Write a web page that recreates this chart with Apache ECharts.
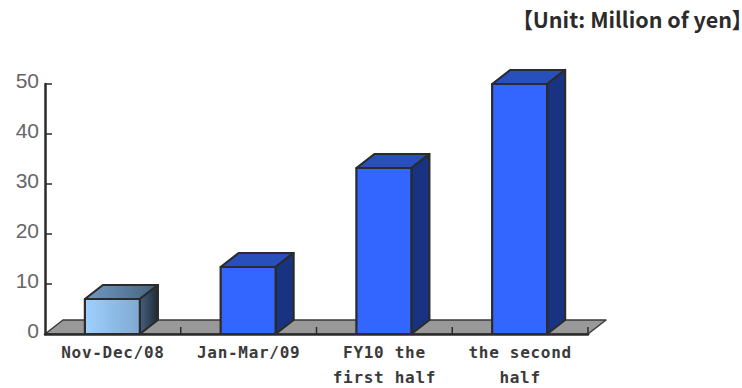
<!DOCTYPE html>
<html>
<head>
<meta charset="utf-8">
<script src="https://cdn.jsdelivr.net/npm/echarts@6/dist/echarts.min.js"></script>
<style>
  html, body { margin: 0; padding: 0; background: #fff; }
  #chart { width: 742px; height: 388px; }
  /* Wide tracking for the category labels only */
  svg text[style*="DejaVu Sans Mono"] { letter-spacing: 0.7px; }
  /* Proportional brackets keep the unit note inside the right edge */
  svg text[style*="Noto Sans CJK JP"] { font-feature-settings: "palt"; }
</style>
</head>
<body>
<div id="chart"></div>
<script>
const categories = ['Nov-Dec/08', 'Jan-Mar/09', 'FY10 the\nfirst half', 'the second\nhalf'];
const values = [7, 13.4, 33.2, 50];
const yTicks = [0, 10, 20, 30, 40, 50];
const unitLabel = '【Unit: Million of yen】';

// Oblique offset of the 3D extrusion, in pixels
const DEPTH_X = 18;
const DEPTH_Y = 14;
const OUTLINE = '#2b2b2b';

const chart = echarts.init(document.getElementById('chart'), null, { renderer: 'svg' });

function polygon(points, fill) {
  return {
    type: 'polygon',
    shape: { points },
    style: { fill, stroke: OUTLINE, lineWidth: 2.2, lineJoin: 'round' }
  };
}

// Grey floor plane running under the columns
function renderFloor(params, api) {
  const cs = params.coordSys;
  const l = cs.x, r = cs.x + cs.width, b = cs.y + cs.height;
  const ticks = categories.map((_, i) => {
    const x = l + (cs.width / categories.length) * (i + 1);
    return { type: 'line', shape: { x1: x, y1: b - 7, x2: x, y2: b }, style: { stroke: OUTLINE, lineWidth: 1.5 } };
  });
  return {
    type: 'group',
    children: [
      { type: 'polygon',
        shape: { points: [[l, b], [l + DEPTH_X, b - DEPTH_Y], [r + DEPTH_X, b - DEPTH_Y], [r, b]] },
        style: { fill: '#999999', stroke: '#3a3a3a', lineWidth: 1.5, lineJoin: 'round' } },
      ...ticks
    ]
  };
}

const lightFront = new echarts.graphic.LinearGradient(0, 0, 1, 0, [
  { offset: 0, color: '#9ed0ff' }, { offset: 1, color: '#7fa9d2' }]);
const lightTop = new echarts.graphic.LinearGradient(0, 0, 1, 0, [
  { offset: 0, color: '#6f9bc4' }, { offset: 1, color: '#46617e' }]);
const lightSide = new echarts.graphic.LinearGradient(0, 0, 1, 0, [
  { offset: 0, color: '#46617e' }, { offset: 1, color: '#1f2a36' }]);

function renderColumn(params, api) {
  const idx = api.value(0);
  const top = api.coord([idx, api.value(1)]);
  const base = api.coord([idx, 0]);
  const w = api.size([1, 0])[0] * 0.405;
  const l = top[0] - w / 2 - 0.5, r = top[0] + w / 2 - 0.5;
  const first = idx === 0;
  return {
    type: 'group',
    children: [
      polygon([[l, top[1]], [l + DEPTH_X, top[1] - DEPTH_Y], [r + DEPTH_X, top[1] - DEPTH_Y], [r, top[1]]],
        first ? lightTop : '#2850bd'),
      polygon([[r, top[1]], [r + DEPTH_X, top[1] - DEPTH_Y], [r + DEPTH_X, base[1] - DEPTH_Y], [r, base[1]]],
        first ? lightSide : '#193383'),
      polygon([[l, top[1]], [r, top[1]], [r, base[1]], [l, base[1]]],
        first ? lightFront : '#3366ff')
    ]
  };
}

chart.setOption({
  animation: false,
  backgroundColor: '#fff',
  title: {
    text: unitLabel,
    left: 522,
    top: 8,
    padding: 0,
    textStyle: { fontFamily: '"Noto Sans CJK JP"', fontSize: 21.5, fontWeight: 'bold', color: '#2b2b2b' }
  },
  grid: { left: 45, right: 154, top: 84, bottom: 54, outerBoundsMode: 'none' },
  xAxis: {
    type: 'category',
    data: categories,
    z: 2,
    axisTick: { show: false },
    axisLine: { show: true, onZero: false, lineStyle: { color: OUTLINE, width: 2.5 } },
    axisLabel: {
      interval: 0,
      margin: 6,
      lineHeight: 25,
      color: '#3a3a3a',
      fontFamily: '"DejaVu Sans Mono"',
      fontSize: 16,
      fontWeight: 'bold'
    }
  },
  yAxis: {
    type: 'value',
    min: 0,
    max: 50,
    interval: 10,
    z: 2,
    splitLine: { show: false },
    axisLine: { show: true, lineStyle: { color: OUTLINE, width: 2.5 } },
    axisTick: { show: true, inside: true, length: 7, lineStyle: { color: OUTLINE, width: 1.5 } },
    axisLabel: {
      margin: 6,
      verticalAlign: 'bottom',
      lineHeight: 8,
      color: '#666',
      fontFamily: '"Liberation Sans"',
      fontSize: 21,
      formatter: v => (yTicks.includes(v) ? String(v) : '')
    }
  },
  series: [
    { type: 'custom', coordinateSystem: 'cartesian2d', data: [[0, 0]], renderItem: renderFloor, z: 1, silent: true },
    { type: 'custom', coordinateSystem: 'cartesian2d',
      data: values.map((v, i) => [i, v]),
      encode: { x: 0, y: 1 },
      renderItem: renderColumn, z: 3, silent: true }
  ]
});
</script>
</body>
</html>
